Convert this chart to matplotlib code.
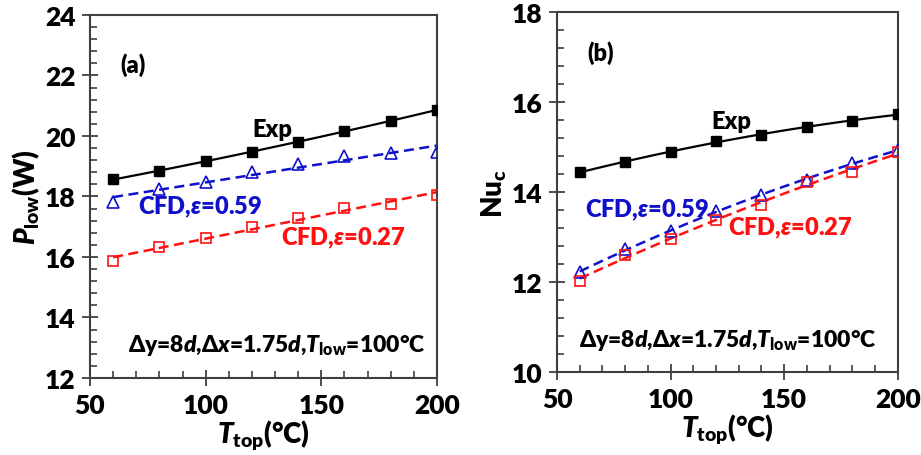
import matplotlib

matplotlib.use("Agg")
import matplotlib.pyplot as plt
import numpy as np
from matplotlib.ticker import MultipleLocator

plt.rcParams["font.family"] = ["Lato", "DejaVu Sans"]
plt.rcParams["font.weight"] = "heavy"
plt.rcParams["axes.labelweight"] = "heavy"
plt.rcParams["mathtext.fontset"] = "custom"
plt.rcParams["mathtext.rm"] = "Lato:heavy"
plt.rcParams["mathtext.it"] = "Lato:italic:heavy"
plt.rcParams["mathtext.bf"] = "Lato:heavy"

# wall temperature of the top cylinder (deg C)
t_top = [60, 80, 100, 120, 140, 160, 180, 200]

# (a) heat transfer rate of the lower cylinder (W)
p_exp = [18.57, 18.84, 19.16, 19.48, 19.81, 20.17, 20.49, 20.86]
p_cfd_059 = [17.81, 18.25, 18.47, 18.80, 19.07, 19.33, 19.43, 19.48]
p_cfd_027 = [15.85, 16.32, 16.64, 17.00, 17.28, 17.63, 17.75, 18.06]

# (b) convective Nusselt number
nu_exp = [14.44, 14.67, 14.90, 15.13, 15.28, 15.44, 15.59, 15.73]
nu_cfd_059 = [12.22, 12.73, 13.13, 13.59, 13.93, 14.27, 14.65, 14.93]
nu_cfd_027 = [12.03, 12.61, 12.96, 13.39, 13.72, 14.22, 14.44, 14.89]

BLUE = "#1010CC"
RED = "#FF1010"
SPINE = "#404040"
CASE_NOTE = r"Δy=8$d$,Δ$x$=1.75$d$,$T_{\rm low}$=100°C"


def trend(x, y, deg):
    xs = np.linspace(min(x), max(x), 100)
    return xs, np.polyval(np.polyfit(x, y, deg), xs)


def style_axes(ax, ylim):
    ax.set_xlim(50, 200)
    ax.set_ylim(*ylim)
    ax.xaxis.set_major_locator(MultipleLocator(50))
    ax.xaxis.set_minor_locator(MultipleLocator(10))
    ax.yaxis.set_major_locator(MultipleLocator(2))
    ax.yaxis.set_minor_locator(MultipleLocator(0.4))
    ax.tick_params(which="major", direction="inout", length=11, width=1.3,
                   color=SPINE, labelsize=19, pad=5)
    ax.tick_params(which="minor", direction="in", length=5, width=1.2, color=SPINE)
    ax.tick_params(top=False, right=False, which="both")
    for spine in ax.spines.values():
        spine.set_color(SPINE)
        spine.set_linewidth(1.5)
    ax.set_xlabel(r"$T_{\rm top}$(°C)", fontsize=20, labelpad=0)


def draw_series(ax, exp, cfd_a, cfd_b, cfd_deg):
    xs, ys = trend(t_top, exp, 2)
    ax.plot(xs, ys, color="black", lw=1.6, zorder=2)
    ax.plot(t_top, exp, ls="none", marker="s", ms=7.5, color="black", zorder=3)
    xs, ys = trend(t_top, cfd_a, cfd_deg)
    ax.plot(xs, ys, color=BLUE, lw=1.8, ls=(0, (4, 2.2)), zorder=2)
    ax.plot(t_top, cfd_a, ls="none", marker="^", ms=8, mfc="none", mec=BLUE,
            mew=1.2, zorder=3)
    xs, ys = trend(t_top, cfd_b, cfd_deg)
    ax.plot(xs, ys, color=RED, lw=1.8, ls=(0, (4, 2.2)), zorder=2)
    ax.plot(t_top, cfd_b, ls="none", marker="s", ms=7.5, mfc="none", mec=RED,
            mew=1.2, zorder=3)


fig = plt.figure(figsize=(9.21, 4.56), dpi=100)
ax_a = fig.add_axes([0.0977, 0.169, 0.3768, 0.796])
ax_b = fig.add_axes([0.6048, 0.182, 0.370, 0.789])

# (a) P_low
draw_series(ax_a, p_exp, p_cfd_059, p_cfd_027, 1)
style_axes(ax_a, (12, 24))
ax_a.set_ylabel(r"$P_{\rm low}$(W)", fontsize=20, labelpad=2)
ax_a.text(68.6, 22.38, "(a)", fontsize=17, ha="center", va="center")
ax_a.text(128.7, 20.23, "Exp", fontsize=17, ha="center", va="center")
ax_a.text(97.6, 17.69, r"CFD,$\varepsilon$=0.59", fontsize=17, color=BLUE,
          ha="center", va="center")
ax_a.text(159.4, 16.66, r"CFD,$\varepsilon$=0.27", fontsize=17, color=RED,
          ha="center", va="center")
ax_a.text(130.8, 13.12, CASE_NOTE, fontsize=16.5, ha="center", va="center")

# (b) Nu_c
draw_series(ax_b, nu_exp, nu_cfd_059, nu_cfd_027, 2)
style_axes(ax_b, (10, 18))
ax_b.set_ylabel(r"Nu$_{\rm c}$", fontsize=20, labelpad=2)
ax_b.text(69.4, 17.12, "(b)", fontsize=17, ha="center", va="center")
ax_b.text(126.5, 15.58, "Exp", fontsize=17, ha="center", va="center")
ax_b.text(89.6, 13.61, r"CFD,$\varepsilon$=0.59", fontsize=17, color=BLUE,
          ha="center", va="center")
ax_b.text(152.5, 13.21, r"CFD,$\varepsilon$=0.27", fontsize=17, color=RED,
          ha="center", va="center")
ax_b.text(125.2, 10.72, CASE_NOTE, fontsize=16.5, ha="center", va="center")

fig.savefig("out.png", dpi=100)
